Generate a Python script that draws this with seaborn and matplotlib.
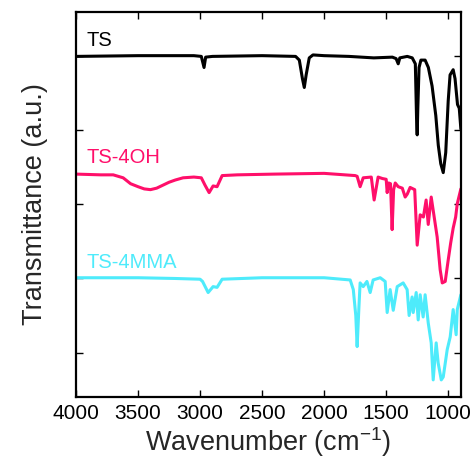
import numpy as np
import pandas as pd
import seaborn as sns
import matplotlib
matplotlib.use("Agg")
import matplotlib.pyplot as plt

# FTIR spektrumlari (dalga sayisi, gecirgenlik)
ts_wn = [4000, 3500, 3050, 2990, 2968, 2955, 2900, 2500, 2230, 2200, 2175, 2160, 2145, 2120,
         2090, 2000, 1800, 1600, 1450, 1420, 1403, 1390, 1330, 1290, 1265, 1255, 1250, 1245,
         1235, 1220, 1186, 1160, 1130, 1100, 1080, 1060, 1040, 1020, 1000, 985, 960, 945,
         925, 911, 898]
ts_val = [4.60, 4.61, 4.61, 4.60, 4.45, 4.59, 4.60, 4.61, 4.60, 4.55, 4.30, 4.18, 4.35, 4.58,
          4.62, 4.61, 4.60, 4.58, 4.59, 4.57, 4.50, 4.58, 4.60, 4.58, 4.50, 3.75, 3.54, 3.90,
          4.45, 4.55, 4.55, 4.45, 4.20, 3.80, 3.40, 3.15, 3.03, 3.30, 4.00, 4.35, 4.42, 4.30,
          3.95, 3.90, 3.62]

oh_wn = [4000, 3800, 3700, 3620, 3560, 3500, 3450, 3400, 3350, 3300, 3250, 3200, 3137, 3050,
         2990, 2960, 2927, 2895, 2863, 2822, 2700,
         2400, 2000, 1750, 1734, 1710, 1685, 1620, 1597, 1565, 1530, 1500, 1492, 1480, 1465,
         1452, 1440, 1427, 1403, 1370, 1347, 1330, 1307, 1270, 1250, 1226, 1200, 1178, 1161,
         1137, 1089, 1065, 1048, 1024, 1000, 980, 960, 940, 927, 898]
oh_val = [3.01, 3.00, 3.00, 2.96, 2.88, 2.84, 2.81, 2.80, 2.82, 2.86, 2.90, 2.93, 2.96, 2.97,
          2.96, 2.86, 2.76, 2.85, 2.84, 2.99, 3.00,
          3.01, 3.02, 2.99, 2.98, 2.84, 2.96, 2.97, 2.66, 2.97, 2.95, 2.94, 2.76, 2.89, 2.88,
          2.26, 2.80, 2.89, 2.84, 2.82, 2.70, 2.74, 2.83, 2.80, 2.05, 2.46, 2.43, 2.66, 2.33,
          2.70, 2.16, 1.72, 1.54, 1.56, 1.85, 2.08, 2.28, 2.43, 2.61, 2.81]

mma_wn = [4000, 3500, 3200, 3000, 2980, 2935, 2895, 2863, 2822, 2500, 2000, 1790, 1765, 1745,
          1734, 1720, 1710, 1685, 1655, 1629, 1605, 1548, 1508, 1492, 1468, 1443, 1411, 1363,
          1331, 1315, 1291, 1282, 1258, 1242, 1226, 1202, 1186, 1161, 1137, 1121, 1097, 1081,
          1056, 1040, 1008, 984, 960, 936, 927, 898]
mma_val = [1.61, 1.61, 1.60, 1.59, 1.56, 1.41, 1.49, 1.48, 1.59, 1.61, 1.61, 1.58, 1.45, 1.10,
           0.68, 1.20, 1.54, 1.49, 1.56, 1.41, 1.58, 1.61, 1.56, 1.14, 1.45, 1.17, 1.49, 1.54,
           1.45, 1.10, 1.35, 1.14, 1.41, 1.04, 1.38, 1.08, 1.38, 1.00, 0.73, 0.23, 0.73, 0.46,
           0.23, 0.27, 0.64, 0.81, 1.18, 0.84, 1.18, 1.38]

names = ["TS", "TS-4OH", "TS-4MMA"]
colors = ["#000000", "#FF0F6A", "#4EEBFB"]
label_y = [4.82, 3.23, 1.81]

sns.set_style("ticks")
plt.rcParams["font.family"] = ["Liberation Sans", "DejaVu Sans"]
plt.rcParams["mathtext.fontset"] = "custom"
plt.rcParams["mathtext.rm"] = "Liberation Sans"
plt.rcParams["mathtext.it"] = "Liberation Sans:italic"

fig = plt.figure(figsize=(4.75, 4.61), dpi=100)
ax = fig.add_axes([0.16, 0.139, 0.8105, 0.835])

for wn, val, c in zip([ts_wn, oh_wn, mma_wn], [ts_val, oh_val, mma_val], colors):
    sns.lineplot(x=wn, y=val, sort=False, estimator=None, color=c, lw=2.2, ax=ax)

# etiketler
for n, c, yy in zip(names, colors, label_y):
    ax.text(3912, yy, n, color=c, fontsize=14.5, va="center", ha="left")

ax.set_xlim(4000, 897)
ax.set_ylim(0, 5.2)
ax.set_xticks([4000, 3500, 3000, 2500, 2000, 1500, 1000])
ax.set_yticks([0.6, 1.6, 2.6, 3.6, 4.6])
ax.set_yticklabels([])
ax.tick_params(direction="in", length=5, width=1, top=True, right=True,
               labelsize=15, colors="black", pad=5)
for s in ax.spines.values():
    s.set_linewidth(1.6)
    s.set_color("black")

ax.set_xlabel("Wavenumber (cm$^{-1}$)", fontsize=19.5, labelpad=2)
ax.set_ylabel("Transmittance (a.u.)", fontsize=19.5, labelpad=15)

plt.savefig("out.png", dpi=100)
